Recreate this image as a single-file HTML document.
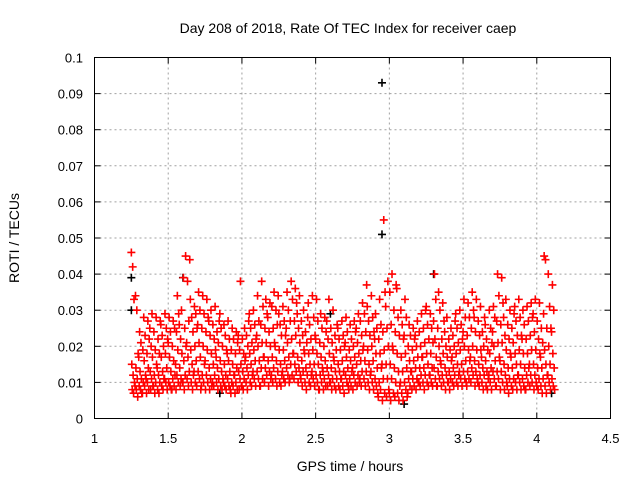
<!DOCTYPE html>
<html><head><meta charset="utf-8"><style>
body{margin:0;background:#fff}
svg{display:block;font-family:"Liberation Sans",sans-serif}
</style></head><body>
<svg id="chart" width="640" height="480" viewBox="0 0 640 480" xmlns="http://www.w3.org/2000/svg">
<rect width="640" height="480" fill="#fff"/>
<text x="348" y="33" font-size="14" text-anchor="middle">Day 208 of 2018, Rate Of TEC Index for receiver caep</text>
<text transform="translate(19,238) rotate(-90)" font-size="14" text-anchor="middle">ROTI / TECUs</text>
<text x="350" y="471" font-size="14" text-anchor="middle">GPS time / hours</text>
<g id="grid"></g><g id="ticks"></g><g id="pts"></g>
<rect x="94.5" y="57.5" width="516" height="361" fill="none" stroke="#000" stroke-width="1"/>
</svg>
<script>
const xTicks=[1,1.5,2,2.5,3,3.5,4,4.5];
const xTickLabels=["1","1.5","2","2.5","3","3.5","4","4.5"];
const yTicks=[0,0.01,0.02,0.03,0.04,0.05,0.06,0.07,0.08,0.09,0.1];
const yTickLabels=["0","0.01","0.02","0.03","0.04","0.05","0.06","0.07","0.08","0.09","0.1"];
const binStart=1.25, binStep=0.025;
// ROTI values (x1000) per time bin
const redBins=[
[46,42,33,15,12,10,8,7],[34,30,18,14,11,9,8,6],[24,21,17,13,11,9,8,7],[28,23,19,16,12,10,9,7],
[27,22,18,14,11,10,8,7],[29,25,20,17,13,11,9,8],[28,24,19,15,12,10,9,7],[27,22,18,14,12,10,8,7],
[26,23,20,17,13,11,9,8],[29,25,22,18,14,11,10,8],[28,24,21,17,13,10,9,8],[27,25,20,16,12,11,9,8],
[34,29,24,19,15,12,10,8],[30,26,22,18,14,11,10,9],[45,39,25,20,16,12,10,8],[44,38,27,21,17,13,11,9],
[33,28,24,19,15,12,10,8],[31,29,25,20,16,13,10,9],[35,30,26,21,17,13,11,8],[34,29,25,20,15,12,10,9],
[33,28,24,19,16,12,10,8],[30,27,23,18,14,11,9,8],[31,26,22,19,15,12,10,9],[27,24,21,17,14,11,10,8],
[29,25,20,16,13,11,9,8],[26,23,19,15,12,10,9,8],[27,22,18,16,13,11,9,8],[25,22,19,15,12,10,9,7],
[24,21,18,14,12,10,8,7],[38,23,19,15,13,11,9,8],[25,22,18,16,13,11,9,8],[27,23,20,17,14,12,10,8],
[29,25,21,18,15,12,10,9],[30,26,22,19,16,13,11,9],[34,27,23,20,16,13,11,9],[38,31,26,21,17,14,11,9],
[33,29,25,21,17,14,12,10],[32,28,24,20,16,13,11,9],[35,31,25,21,17,14,12,10],[34,30,26,20,16,13,11,9],
[29,26,23,19,15,12,10,9],[31,27,23,19,16,13,11,10],[35,30,25,21,17,14,12,10],[38,33,27,22,18,15,12,11],
[36,32,27,23,18,15,13,11],[34,29,25,21,17,14,12,10],[30,27,23,19,16,13,11,9],[28,24,21,18,14,12,10,8],
[32,26,22,18,15,12,10,9],[34,28,23,19,15,13,11,9],[33,27,22,18,15,12,10,8],[29,25,21,17,14,12,10,8],
[28,24,20,16,13,11,9,8],[33,27,22,18,14,12,10,9],[30,25,21,17,14,11,10,8],[26,23,19,16,13,11,9,8],
[25,22,19,15,13,11,9,8],[27,23,20,16,13,11,9,7],[28,24,21,17,14,12,10,9],[26,22,19,16,13,11,9,8],
[27,24,20,17,14,12,10,8],[29,25,21,18,15,12,10,9],[32,27,23,19,16,13,11,9],[37,29,24,20,16,13,11,9],
[31,27,23,19,15,12,10,8],[34,28,24,20,16,13,10,8],[29,25,22,18,14,11,9,7],[33,26,22,18,14,10,8,6],
[55,35,24,19,15,11,7,5],[38,31,25,20,15,11,8,6],[40,35,26,20,15,11,7,5],[37,30,24,19,14,10,7,6],
[36,28,23,18,13,9,7,5],[30,26,22,17,13,10,7,5],[33,28,23,18,14,10,8,6],[26,23,20,16,13,11,9,7],
[25,22,19,16,13,11,9,8],[27,23,20,17,14,11,10,8],[29,24,20,17,14,12,10,9],[30,25,21,17,14,12,10,8],
[31,26,22,18,15,12,10,9],[29,25,21,18,14,12,10,9],[40,33,27,22,17,14,11,9],[35,30,25,20,16,13,11,9],
[32,27,22,18,15,12,10,9],[28,24,20,17,14,12,10,8],[25,22,19,16,13,11,10,8],[27,23,20,17,14,12,10,9],
[29,25,21,18,15,12,10,9],[30,26,22,19,15,13,11,9],[33,28,24,20,16,13,11,10],[32,28,23,19,16,13,11,9],
[35,30,25,20,17,14,12,10],[33,28,24,19,16,13,11,9],[31,27,23,19,15,12,10,9],[28,24,20,17,14,12,10,8],
[26,22,19,16,13,11,9,8],[30,25,21,18,14,12,10,8],[31,28,24,20,16,13,11,9],[40,34,27,21,17,13,11,9],
[39,32,26,21,16,13,10,8],[33,28,23,19,15,12,10,8],[30,26,22,18,14,11,9,7],[29,25,21,17,14,11,9,8],
[31,27,23,18,15,12,10,8],[33,28,23,19,15,12,10,8],[30,26,22,18,14,11,9,8],[31,27,22,18,14,12,10,8],
[32,28,23,19,15,12,10,9],[33,29,24,19,15,12,10,8],[32,27,22,18,14,11,9,8],[29,25,21,17,14,11,9,7],
[45,44,25,19,15,12,9,7],[40,31,25,20,15,12,10,8],[37,30,24,18,14,11,9,8]
];
const blackX=[1.25,1.25,1.6,2.95,2.95,3.1,3.3,4.1,2.6,1.85];
const blackY=[0.039,0.030,0.039,0.093,0.051,0.004,0.040,0.007,0.029,0.007];

const L=94.5,R=610.5,T=57.5,B=418.5;
const sx=v=>L+(v-1)/3.5*(R-L);
const sy=v=>B-v/0.1*(B-T);
const NS="http://www.w3.org/2000/svg";
function mk(tag,parent){const e=document.createElementNS(NS,tag);parent.appendChild(e);return e;}
const grid=document.getElementById('grid'),ticks=document.getElementById('ticks'),pts=document.getElementById('pts');
xTicks.forEach((v,i)=>{
  const x=sx(v);
  if(i>0&&i<xTicks.length-1){const g=mk('line',grid);
  
  
  g.setAttribute('x1',x);g.setAttribute('x2',x);g.setAttribute('y1',T);g.setAttribute('y2',B);g.setAttribute('stroke','#a0a0a0');g.setAttribute('stroke-dasharray','2,3');}
  const t=mk('text',ticks);
  
  
  t.setAttribute('x',x);t.setAttribute('y',443);t.setAttribute('font-size','13');t.setAttribute('text-anchor','middle');t.textContent=xTickLabels[i];
  [[B,B-6],[T,T+6]].forEach(p=>{const m=mk('line',ticks);
  
  
  m.setAttribute('x1',x);m.setAttribute('x2',x);m.setAttribute('y1',p[0]);m.setAttribute('y2',p[1]);m.setAttribute('stroke','#000');});
});
yTicks.forEach((v,i)=>{
  const y=sy(v);
  if(i>0&&i<yTicks.length-1){const g=mk('line',grid);
  
  
  g.setAttribute('x1',L);g.setAttribute('x2',R);g.setAttribute('y1',y);g.setAttribute('y2',y);g.setAttribute('stroke','#a0a0a0');g.setAttribute('stroke-dasharray','2,3');}
  const t=mk('text',ticks);
  
  
  t.setAttribute('x',83);t.setAttribute('y',y+5);t.setAttribute('font-size','13');t.setAttribute('text-anchor','end');t.textContent=yTickLabels[i];
  [[L,L+6],[R,R-6]].forEach(p=>{const m=mk('line',ticks);
  
  
  m.setAttribute('y1',y);m.setAttribute('y2',y);m.setAttribute('x1',p[0]);m.setAttribute('x2',p[1]);m.setAttribute('stroke','#000');});
});
function plus(x,y,color,name){
  const p=mk('path',pts);
  
  
  p.setAttribute('d',`M${x-4},${y}h8M${x},${y-4}v8`);
  p.setAttribute('stroke',color);p.setAttribute('stroke-width','1.6');
}
blackX.forEach((v,i)=>plus(sx(v),sy(blackY[i]),'#000','black-point'));
redBins.forEach((bin,b)=>{
  bin.forEach((v,k)=>{
    const off=((k*3+b)%8)*0.003;
    plus(sx(binStart+b*binStep+off),sy(v/1000),'#ff0000','roti-point');
  });
});
</script>
</body></html>
